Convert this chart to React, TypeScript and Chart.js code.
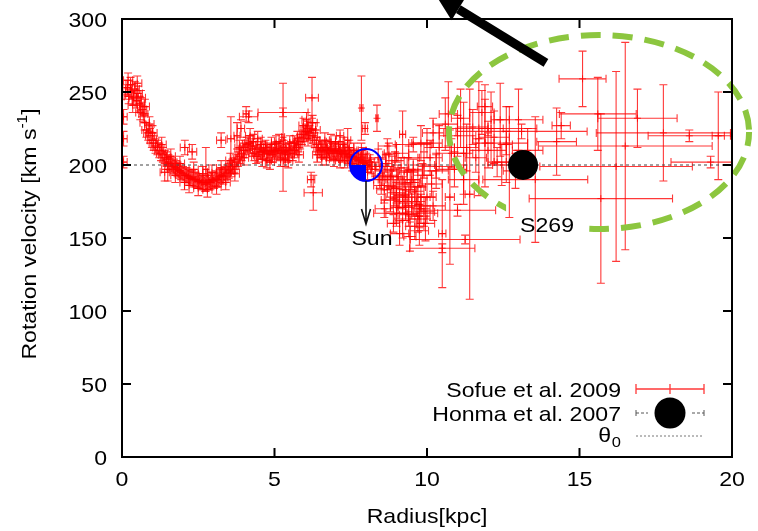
import React, { useEffect, useRef } from "react";
import { Chart, registerables } from "chart.js";
Chart.register(...registerables);

// ---------- data ----------
const xTicks = [0, 5, 10, 15, 20];
const yTicks = [0, 50, 100, 150, 200, 250, 300];
const xTitle = "Radius[kpc]";
const yTitleMain = "Rotation velocity [km s";
const yTitleSup = "-1";
const theta0 = 200;
const sunR = 8.0;
const sunV = 200;
const honmaR = [13.15];
const honmaV = [200];
const honmaLabel = "S269";
const sunLabel = "Sun";
const legendLabels = ["Sofue et al. 2009", "Honma et al. 2007", "θ"];
const ellipseCenter = [15.64, 222.6]; // kpc, km/s
const ellipseRadii = [4.92, 66.4];
const bigArrowTail = [13.9, 270];
const bigArrowTip = [10.3, 316];

// [R, V, dR, dV]
const sofueInner = [
  [0.05,202,0.12,4],[0.05,218,0.12,5],[0.05,233,0.12,5],
  [0.12,250,0.15,5],[0.18,253,0.15,5],[0.22,247,0.15,5],[0.28,255,0.15,5],[0.32,250,0.15,5],[0.38,246,0.15,5],[0.42,252,0.15,5],[0.48,244,0.15,5],[0.52,249,0.15,5],[0.58,242,0.15,5],[0.62,246,0.15,5],[0.66,238,0.15,5],[0.7,235,0.15,5],[0.74,229,0.15,5],[0.8,224,0.15,5],[0.86,222,0.15,5],[0.92,220,0.15,5],[0.98,217,0.15,5],
  [1.04,215,0.15,5],[1.1,213,0.15,5],[1.16,212,0.15,5],[1.22,210,0.15,5],[1.28,208,0.15,5],[1.34,207,0.15,5],[1.4,205,0.15,5],[1.46,204,0.15,5],[1.52,202,0.15,5],[1.58,201,0.15,5],[1.64,200,0.15,5],[1.7,199,0.15,5],[1.76,198,0.15,5],[1.82,197,0.15,5],[1.88,196,0.15,5],[1.94,195,0.15,5],
  [2.0,194,0.15,5],[2.06,193,0.15,5],[2.12,193,0.15,5],[2.18,192,0.15,5],[2.24,191,0.15,5],[2.3,191,0.15,5],[2.36,190,0.15,5],[2.42,190,0.15,5],[2.48,189,0.15,5],[2.54,189,0.15,5],[2.6,188,0.15,5],[2.66,188,0.15,5],[2.72,187,0.15,5],[2.78,188,0.15,5],[2.84,189,0.15,5],[2.9,188,0.15,5],[2.96,190,0.15,5],
  [3.02,189,0.15,5],[3.08,191,0.15,5],[3.14,190,0.15,5],[3.2,192,0.15,5],[3.26,193,0.15,5],[3.32,192,0.15,5],[3.38,194,0.15,5],[3.44,195,0.15,5],[3.5,196,0.15,5],[3.56,197,0.15,5],[3.62,199,0.15,5],[3.68,200,0.15,5],[3.74,202,0.15,5],[3.8,204,0.15,5],[3.86,206,0.15,5],[3.92,208,0.15,5],[3.98,210,0.15,5],
  [4.04,212,0.15,5],[4.1,214,0.15,5],[4.16,215,0.15,5],[4.22,213,0.15,5],[4.28,211,0.15,5],[4.34,208,0.15,5],[4.4,206,0.15,5],[4.46,207,0.15,5],[4.52,209,0.15,5],[4.58,211,0.15,5],[4.64,210,0.15,5],[4.7,212,0.15,5],[4.76,209,0.15,5],[4.82,208,0.15,5],[4.88,210,0.15,5],[4.94,207,0.15,5],
  [5.0,209,0.15,5],[5.06,211,0.15,5],[5.12,210,0.15,5],[5.18,208,0.15,5],[5.24,210,0.15,5],[5.3,212,0.15,5],[5.36,209,0.15,5],[5.42,207,0.15,5],[5.48,210,0.15,5],[5.54,211,0.15,5],[5.6,208,0.15,5],[5.66,210,0.15,5],[5.72,212,0.15,5],[5.78,214,0.15,5],[5.84,216,0.15,5],[5.9,219,0.15,5],[5.96,221,0.15,5],
  [6.02,223,0.15,5],[6.08,225,0.15,5],[6.14,222,0.15,5],[6.2,224,0.15,5],[6.26,220,0.15,5],[6.32,217,0.15,5],[6.38,214,0.15,5],[6.44,212,0.15,5],[6.5,210,0.15,5],[6.56,211,0.15,5],[6.62,209,0.15,5],[6.68,212,0.15,5],[6.74,210,0.15,5],[6.8,208,0.15,5],[6.86,211,0.15,5],[6.92,209,0.15,5],[6.98,210,0.15,5],
  [7.04,208,0.15,5],[7.1,211,0.15,5],[7.16,209,0.15,5],[7.22,207,0.15,5],[7.28,210,0.15,5],[7.34,208,0.15,5],[7.4,206,0.15,5],[7.46,207,0.15,5],[7.52,205,0.15,5],[7.58,206,0.15,5],[7.64,204,0.15,5],[7.7,205,0.15,5],[7.76,203,0.15,5],[7.82,204,0.15,5],[7.88,202,0.15,5],[7.94,201,0.15,5],
  [8.0,203,0.15,5],[8.06,200,0.15,5],[8.12,202,0.15,5],[8.18,199,0.15,5],
];

const sofueBand = [
  [0.2,258,0.15,5],[0.35,241,0.15,5],[0.5,256,0.15,5],[0.6,236,0.15,5],[0.75,240,0.15,5],[0.9,228,0.15,5],
  [1.0,222,0.15,5],[1.3,214,0.15,5],[1.6,206,0.15,5],[1.9,201,0.15,5],[2.2,186,0.15,5],[2.5,184,0.15,5],[2.8,183,0.15,5],[3.1,185,0.15,5],[3.4,188,0.15,5],[3.7,194,0.15,5],
  [2.35,197,0.15,5],[2.65,194,0.15,5],[2.95,195,0.15,5],[3.25,198,0.15,5],[3.55,203,0.15,5],[3.85,212,0.15,5],[2.05,188,0.15,5],[1.75,193,0.15,5],
  [4.0,205,0.15,5],[4.3,216,0.15,5],[4.6,204,0.15,5],[4.9,214,0.15,5],[5.2,204,0.15,5],[5.5,215,0.15,5],[5.8,207,0.15,5],[6.1,218,0.15,5],[6.4,207,0.15,5],[6.7,205,0.15,5],[7.0,215,0.15,5],[7.3,203,0.15,5],[7.6,210,0.15,5],[7.9,207,0.15,5],
  [4.45,218,0.15,5],[4.75,203,0.15,5],[5.05,215,0.15,5],[5.35,204,0.15,5],[5.65,215,0.15,5],[5.95,227,0.15,5],[6.25,229,0.15,5],[6.55,205,0.15,5],[6.85,216,0.15,5],[7.15,203,0.15,5],[7.45,212,0.15,5],[7.75,198,0.15,5],[8.05,195,0.15,5],
  [4.2,220,0.15,5],[4.55,214,0.15,5],[4.85,202,0.15,5],[5.15,216,0.15,5],[5.45,203,0.15,5],[5.75,218,0.15,5],[6.05,231,0.15,5],[6.35,224,0.15,5],[6.65,217,0.15,5],[6.95,204,0.15,5],[7.25,214,0.15,5],[7.55,201,0.15,5],[7.85,210,0.15,5],
];

const sofueScatter = [
  [2.06,212,0.15,5],[2.3,209,0.15,5],[2.75,197,0.1,15],[3.25,217,0.15,5],[3.57,218,0.12,15],[3.77,220,0.1,9],[3.9,225,0.12,6],[4.07,235,0.1,5],[4.15,233,0.3,4],[1.5,197,0.2,8],[1.4,195,0.15,6],
  [5.28,236,0.82,3],[5.28,219,0.05,37],[6.23,246,0.21,14],[6.27,181,0.3,12],[6.2,190,0.12,5],[7.15,220,0.12,4],[7.4,217,0.1,8],[7.85,239,0.05,22],[8.36,232,0.04,9],[7.97,225,0.08,4],
];

const sofueSolar = [
  [8.3,197,0.15,5],[8.4,205,0.25,6],[8.45,190,0.2,6],[8.5,199,0.2,5],[8.55,193,0.3,7],[8.6,183,0.25,9],[8.6,170,0.3,6],[8.65,201,0.2,6],[8.7,190,0.3,7],[8.75,207,0.2,8],[8.8,176,0.3,8],[8.85,196,0.25,10],[8.9,185,0.3,8],[8.95,203,0.3,6],
  [9.0,167,0.35,9],[9.05,192,0.3,8],[9.1,180,0.3,10],[9.15,198,0.25,7],[9.2,162,0.25,12],[9.2,221,0.1,16],[9.25,187,0.3,9],[9.3,171,0.3,8],[9.3,167,1.05,5],[9.35,195,0.35,10],[9.4,178,0.2,10],[9.44,151,0.2,10],[9.5,190,0.3,7],[9.55,214,0.59,5],
  [9.6,158,0.3,9],[9.65,175,0.3,10],[9.7,185,0.25,12],[9.75,165,0.35,8],[9.8,170,0.3,10],[9.85,193,0.3,8],[9.9,200,0.35,9],[9.95,160,0.3,12],[10.0,178,0.3,15],[10.1,205,0.4,12],[10.15,187,0.35,9],[10.2,172,0.4,10],[10.3,196,0.4,12],
  [8.7,213,0.3,5],[9.0,208,0.4,6],[9.4,205,0.35,8],[10.0,215,0.5,10],[8.9,160,0.2,6],[9.1,153,0.3,8],
  [8.5,186,0.25,6],[8.8,192,0.25,7],[9.0,181,0.3,7],[9.2,175,0.3,8],[9.4,166,0.3,8],[9.5,172,0.25,9],[9.6,182,0.3,8],[9.7,163,0.3,9],[9.8,178,0.3,8],[9.9,168,0.35,10],[9.3,183,0.3,7],[9.55,196,0.3,8],[9.75,155,0.3,10],[9.05,171,0.25,8],[8.95,178,0.3,6],[9.45,188,0.3,8],
];

const sofueOuter = [
  [10.5,153,0.12,37],[10.75,178,0.15,46],[11.4,180,0.15,72],[11.7,218,0.2,39],[11.9,215,0.3,30],[12.1,225,0.4,25],[12.3,202,0.3,10],[12.45,200,0.3,14],[12.6,214,0.2,26],[12.7,202,0.5,38],
  [13.0,231,0.8,21],[13.55,190,1.72,43],[14.25,216,0.65,23],[14.4,227,0.3,9],[15.1,259,0.77,19],[15.6,235,1.26,25],[15.7,177,2.35,58],[16.2,199,2.5,65],[16.5,213,2.85,71],[16.9,232,1.3,20],
  [17.75,222,2.2,33],[18.6,220,1.35,4],[19.55,220,0.2,30],[19.3,202,1.3,4],[12.0,225,1.6,5],[13.1,223,2.15,5],[11.0,169,1.25,4],[11.25,149,1.8,3],[10.5,143,1.07,3],[11.2,208,0.3,35],
  [9.8,215,0.4,12],[10.2,222,0.35,10],[10.4,212,0.5,15],[10.6,228,0.4,18],[10.8,208,0.5,10],[11.0,220,0.6,14],[11.1,232,0.3,20],[11.3,212,0.4,16],[11.5,226,0.5,12],[11.6,205,0.35,10],
  [11.8,236,0.4,15],[12.0,210,0.6,12],[12.2,219,0.5,18],[12.4,231,0.3,25],[10.9,197,0.4,12],[11.2,190,0.5,10],[10.3,199,0.6,8],[10.7,235,0.3,22],[11.9,240,0.25,15],[12.6,215,0.7,8],[13.3,210,0.5,15],[12.9,196,0.4,12],
];

const sofueAll = [...sofueInner, ...sofueBand, ...sofueScatter, ...sofueSolar, ...sofueOuter];

// ---------- styles ----------
const FONT = '"Liberation Sans", Arial, Helvetica, sans-serif';
const RED = "rgba(255,0,0,0.78)";
const CAP = 4;
const FS = 21;
const SX = 1.1;

function txt(ctx: CanvasRenderingContext2D, s: string, x: number, y: number, size: number, align: CanvasTextAlign, color = "#000") {
  ctx.save();
  ctx.translate(x, y);
  ctx.scale(SX, 1);
  ctx.font = `${size}px ${FONT}`;
  ctx.textAlign = align;
  ctx.textBaseline = "alphabetic";
  ctx.fillStyle = color;
  ctx.fillText(s, 0, 0);
  ctx.restore();
}

const errorBarPlugin = {
  id: "errbars",
  beforeDatasetsDraw(chart: any) {
    const { ctx, chartArea: a, scales } = chart;
    const x = scales.x, y = scales.y;
    ctx.save();
    ctx.beginPath();
    ctx.rect(a.left, a.top, a.right - a.left, a.bottom - a.top);
    ctx.clip();
    ctx.strokeStyle = RED;
    ctx.lineWidth = 1.1;
    for (const [r, v, dr, dv] of sofueAll) {
      const px = x.getPixelForValue(r), py = y.getPixelForValue(v);
      const x0 = x.getPixelForValue(r - dr), x1 = x.getPixelForValue(r + dr);
      const y0 = y.getPixelForValue(v - dv), y1 = y.getPixelForValue(v + dv);
      ctx.beginPath();
      ctx.moveTo(x0, py); ctx.lineTo(x1, py);
      ctx.moveTo(x0, py - CAP); ctx.lineTo(x0, py + CAP);
      ctx.moveTo(x1, py - CAP); ctx.lineTo(x1, py + CAP);
      ctx.moveTo(px, y0); ctx.lineTo(px, y1);
      ctx.moveTo(px - CAP, y0); ctx.lineTo(px + CAP, y0);
      ctx.moveTo(px - CAP, y1); ctx.lineTo(px + CAP, y1);
      ctx.stroke();
    }
    ctx.restore();
  },
};

const decorPlugin = {
  id: "decor",
  afterDraw(chart: any) {
    const { ctx, chartArea: a, scales } = chart;
    const x = scales.x, y = scales.y;
    ctx.save();

    // Sun symbol
    const sx = x.getPixelForValue(sunR), sy = y.getPixelForValue(sunV);
    const sr = 16;
    ctx.fillStyle = "#0000ff";
    ctx.beginPath();
    ctx.moveTo(sx, sy);
    ctx.arc(sx, sy, sr, Math.PI / 2, Math.PI);
    ctx.closePath();
    ctx.fill();
    ctx.strokeStyle = "#0000ff";
    ctx.lineWidth = 2;
    ctx.beginPath();
    ctx.arc(sx, sy, sr, 0, Math.PI * 2);
    ctx.stroke();
    // sun arrow
    ctx.strokeStyle = "#111";
    ctx.lineWidth = 1.6;
    ctx.beginPath();
    ctx.moveTo(sx, sy + sr);
    ctx.lineTo(sx, sy + 59);
    ctx.moveTo(sx - 4.5, sy + 44);
    ctx.lineTo(sx, sy + 59);
    ctx.lineTo(sx + 4.5, sy + 44);
    ctx.stroke();
    txt(ctx, sunLabel, sx + 6, sy + 80, FS, "center");

    // green dashed ellipse (label area kept clear)
    const hx = x.getPixelForValue(honmaR[0]), hy = y.getPixelForValue(honmaV[0]);
    const lx = hx - 3, ly = hy + 67;
    const ecx = x.getPixelForValue(ellipseCenter[0]);
    const ecy = y.getPixelForValue(ellipseCenter[1]);
    const erx = x.getPixelForValue(ellipseCenter[0] + ellipseRadii[0]) - ecx;
    const ery = ecy - y.getPixelForValue(ellipseCenter[1] + ellipseRadii[1]);
    ctx.save();
    ctx.beginPath();
    ctx.rect(0, 0, chart.width, chart.height);
    ctx.rect(lx - 14, ly - 30, 72, 40);
    ctx.clip("evenodd");
    ctx.strokeStyle = "#8cc63f";
    ctx.lineWidth = 6;
    ctx.setLineDash([20, 12]);
    ctx.lineDashOffset = 6;
    ctx.beginPath();
    ctx.ellipse(ecx, ecy, erx, ery, 0, 0, Math.PI * 2);
    ctx.stroke();
    ctx.restore();

    // S269 label
    txt(ctx, honmaLabel, lx, ly, FS, "left");

    // big black arrow
    const tx0 = x.getPixelForValue(bigArrowTail[0]), ty0 = y.getPixelForValue(bigArrowTail[1]);
    const tx1 = x.getPixelForValue(bigArrowTip[0]), ty1 = y.getPixelForValue(bigArrowTip[1]);
    const ang = Math.atan2(ty1 - ty0, tx1 - tx0);
    const hl = 26, hw = 13;
    const bx = tx1 - hl * Math.cos(ang), by = ty1 - hl * Math.sin(ang);
    ctx.strokeStyle = "#000";
    ctx.lineWidth = 9;
    ctx.beginPath();
    ctx.moveTo(tx0, ty0);
    ctx.lineTo(bx, by);
    ctx.stroke();
    ctx.fillStyle = "#000";
    ctx.beginPath();
    ctx.moveTo(tx1, ty1);
    ctx.lineTo(bx + hw * Math.sin(ang), by - hw * Math.cos(ang));
    ctx.lineTo(bx - hw * Math.sin(ang), by + hw * Math.cos(ang));
    ctx.closePath();
    ctx.fill();

    // frame
    ctx.strokeStyle = "#000";
    ctx.lineWidth = 2;
    ctx.strokeRect(a.left, a.top, a.right - a.left, a.bottom - a.top);
    ctx.beginPath();
    for (const t of x.ticks) {
      const px = x.getPixelForValue(t.value);
      ctx.moveTo(px, a.bottom); ctx.lineTo(px, a.bottom - 9);
      ctx.moveTo(px, a.top); ctx.lineTo(px, a.top + 9);
    }
    for (const t of y.ticks) {
      const py = y.getPixelForValue(t.value);
      ctx.moveTo(a.left, py); ctx.lineTo(a.left + 9, py);
      ctx.moveTo(a.right, py); ctx.lineTo(a.right - 9, py);
    }
    ctx.stroke();

    // tick labels
    for (const t of x.ticks) {
      const px = x.getPixelForValue(t.value);
      txt(ctx, String(t.value), px, a.bottom + 29, FS, "center");
    }
    for (const t of y.ticks) {
      const py = y.getPixelForValue(t.value);
      txt(ctx, String(t.value), a.left - 15, py + 7.5, FS, "right");
    }

    // axis titles
    txt(ctx, xTitle, (a.left + a.right) / 2, a.bottom + 66, FS, "center");
    ctx.save();
    ctx.translate(36, 234);
    ctx.rotate(-Math.PI / 2);
    ctx.scale(SX, 1);
    ctx.fillStyle = "#000";
    ctx.textBaseline = "alphabetic";
    ctx.textAlign = "left";
    ctx.font = `${FS}px ${FONT}`;
    const w1 = ctx.measureText(yTitleMain).width;
    ctx.font = `${14}px ${FONT}`;
    const w2 = ctx.measureText(yTitleSup).width;
    ctx.font = `${FS}px ${FONT}`;
    const w3 = ctx.measureText("]").width;
    let cx = -(w1 + w2 + w3) / 2;
    ctx.fillText(yTitleMain, cx, 0);
    cx += w1;
    ctx.font = `${14}px ${FONT}`;
    ctx.fillText(yTitleSup, cx, -9);
    cx += w2;
    ctx.font = `${FS}px ${FONT}`;
    ctx.fillText("]", cx, 0);
    ctx.restore();

    // legend
    const lr = a.right - 111;
    const s0 = a.right - 96, s1 = a.right - 28, sm = (s0 + s1) / 2;
    const r1 = a.bottom - 68, r2 = a.bottom - 44, r3 = a.bottom - 21;
    txt(ctx, legendLabels[0], lr, r1 + 8, FS, "right");
    txt(ctx, legendLabels[1], lr, r2 + 8, FS, "right");
    txt(ctx, legendLabels[2], lr - 10, r3 + 6, FS, "right");
    txt(ctx, "0", lr, r3 + 11, 15, "right");
    ctx.strokeStyle = RED;
    ctx.lineWidth = 1.3;
    ctx.beginPath();
    ctx.moveTo(s0, r1); ctx.lineTo(s1, r1);
    ctx.moveTo(s0, r1 - 5); ctx.lineTo(s0, r1 + 5);
    ctx.moveTo(s1, r1 - 5); ctx.lineTo(s1, r1 + 5);
    ctx.moveTo(sm, r1 - 5); ctx.lineTo(sm, r1 + 5);
    ctx.stroke();
    ctx.strokeStyle = "#555";
    ctx.lineWidth = 1;
    ctx.setLineDash([3, 2]);
    ctx.beginPath();
    ctx.moveTo(s0, r2); ctx.lineTo(s0 + 12, r2);
    ctx.moveTo(s1 - 12, r2); ctx.lineTo(s1, r2);
    ctx.stroke();
    ctx.setLineDash([]);
    ctx.beginPath();
    ctx.moveTo(s0, r2 - 3); ctx.lineTo(s0, r2 + 3);
    ctx.moveTo(s1, r2 - 3); ctx.lineTo(s1, r2 + 3);
    ctx.stroke();
    ctx.fillStyle = "#000";
    ctx.beginPath();
    ctx.arc(sm, r2, 15.5, 0, Math.PI * 2);
    ctx.fill();
    ctx.strokeStyle = "#777";
    ctx.setLineDash([2, 2]);
    ctx.beginPath();
    ctx.moveTo(s0, r3); ctx.lineTo(s1, r3);
    ctx.stroke();
    ctx.setLineDash([]);

    ctx.restore();
  },
};

export default function App() {
  const ref = useRef<HTMLCanvasElement>(null);
  useEffect(() => {
    if (!ref.current) return;
    const chart = new Chart(ref.current, {
      type: "scatter",
      data: {
        datasets: [
          {
            label: legendLabels[1],
            data: honmaR.map((r, i) => ({ x: r, y: honmaV[i] })),
            pointRadius: 15,
            pointHoverRadius: 15,
            backgroundColor: "#000",
            borderColor: "#000",
            borderWidth: 0,
          },
          {
            label: legendLabels[0],
            data: sofueAll.map((p) => ({ x: p[0], y: p[1] })),
            pointStyle: "cross",
            pointRadius: 3.5,
            borderColor: RED,
            borderWidth: 1,
          },
          {
            type: "line",
            label: "theta0",
            data: [xTicks[0], xTicks[xTicks.length - 1]].map((r) => ({ x: r, y: theta0 })),
            borderColor: "#444",
            borderWidth: 1,
            borderDash: [3, 3],
            pointRadius: 0,
            fill: false,
          } as any,
        ],
      },
      options: {
        responsive: false,
        animation: false,
        devicePixelRatio: 1,
        layout: { padding: { top: 19, right: 26, left: 0, bottom: 0 } },
        plugins: { legend: { display: false }, tooltip: { enabled: false } },
        scales: {
          x: {
            type: "linear",
            min: xTicks[0],
            max: xTicks[xTicks.length - 1],
            ticks: { stepSize: 5, display: false },
            grid: { display: false },
            border: { display: false },
            afterFit: (s: any) => { s.height = 74; },
          },
          y: {
            type: "linear",
            min: yTicks[0],
            max: yTicks[yTicks.length - 1],
            ticks: { stepSize: 50, display: false },
            grid: { display: false },
            border: { display: false },
            afterFit: (s: any) => { s.width = 122; },
          },
        },
      },
      plugins: [errorBarPlugin, decorPlugin],
    });
    return () => chart.destroy();
  }, []);
  return (
    <div style={{ position: "absolute", left: 0, top: 0, width: 758, height: 531, background: "#fff" }}>
      <canvas ref={ref} width={758} height={531} />
    </div>
  );
}
